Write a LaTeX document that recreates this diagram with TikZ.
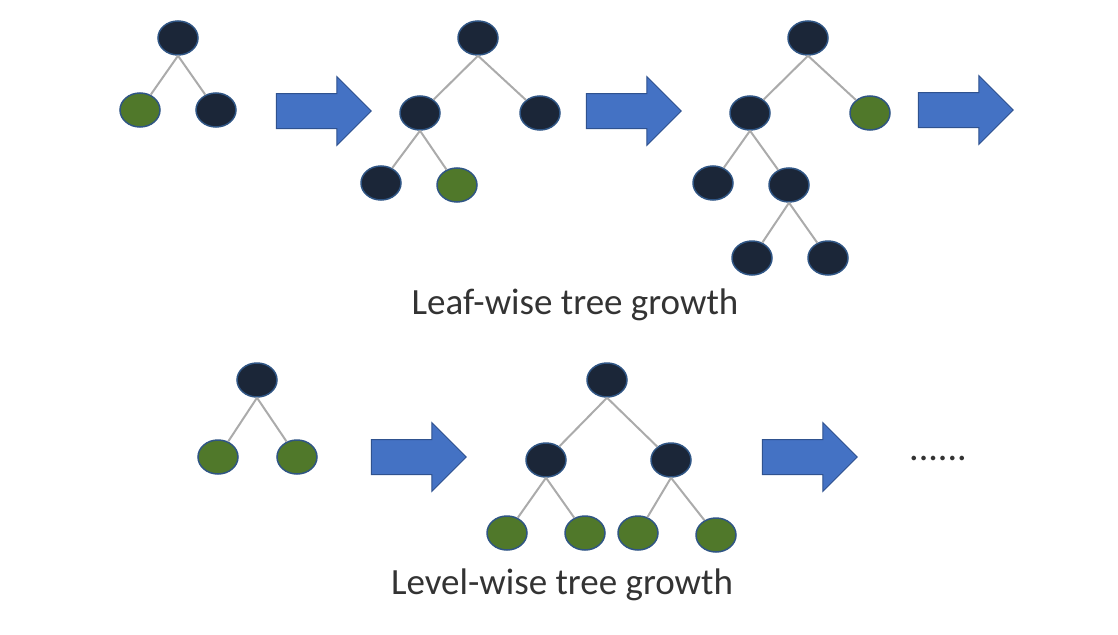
\documentclass[tikz,border=0pt]{standalone}
\usepackage{fontspec}
\setmainfont{Carlito}
\usetikzlibrary{shapes.geometric,shapes.arrows}
\definecolor{darkleaf}{HTML}{1B2638}
\definecolor{greenleaf}{HTML}{50782A}
\definecolor{leafedge}{HTML}{2F5584}
\definecolor{branchgrey}{HTML}{ABABAB}
\definecolor{arrowblue}{HTML}{4472C4}
\definecolor{arrowedge}{HTML}{2F528F}
\definecolor{captiongrey}{HTML}{333333}
\begin{document}
\begin{tikzpicture}[x=1pt, y=-1pt,
  leaf/.style={ellipse, draw=leafedge, line width=1.5pt, fill=darkleaf,
    minimum width=40pt, minimum height=34pt, inner sep=0pt},
  grown/.style={leaf, fill=greenleaf},
  branch/.style={draw=branchgrey, line width=2pt},
  growarrow/.style={single arrow, draw=arrowedge, fill=arrowblue, line width=1pt,
    minimum height=95pt, inner xsep=0pt, inner ysep=17pt,
    single arrow head extend=17pt, single arrow head indent=0pt},
  treecaption/.style={font=\fontsize{37}{44}\selectfont, text=captiongrey}]

  \useasboundingbox (0,0) rectangle (1118,634);

  % leaf-wise trees
  \node [leaf]  (t1)   at (178,38)  {};
  \node [grown] (t1l)  at (140,110) {};
  \node [leaf]  (t1r)  at (216,110) {};

  \node [leaf]  (t2)   at (478,38)  {};
  \node [leaf]  (t2l)  at (420,113) {};
  \node [leaf]  (t2r)  at (540,113) {};
  \node [leaf]  (t2ll) at (381,183) {};
  \node [grown] (t2lr) at (457,185) {};

  \node [leaf]  (t3)    at (808,38)  {};
  \node [leaf]  (t3l)   at (750,113) {};
  \node [grown] (t3r)   at (870,113) {};
  \node [leaf]  (t3ll)  at (713,183) {};
  \node [leaf]  (t3lr)  at (789,185) {};
  \node [leaf]  (t3lrl) at (752,258) {};
  \node [leaf]  (t3lrr) at (828,258) {};

  % level-wise trees
  \node [leaf]  (b1)  at (257,380) {};
  \node [grown] (b1l) at (218,457) {};
  \node [grown] (b1r) at (297,457) {};

  \node [leaf]  (b2)   at (607,380) {};
  \node [leaf]  (b2l)  at (546,460) {};
  \node [leaf]  (b2r)  at (671,460) {};
  \node [grown] (b2ll) at (507,533) {};
  \node [grown] (b2lr) at (585,533) {};
  \node [grown] (b2rl) at (638,533) {};
  \node [grown] (b2rr) at (716,535) {};

  % branches
  \foreach \p/\c in {t1/t1l, t1/t1r, t2/t2l, t2/t2r, t2l/t2ll, t2l/t2lr,
      t3/t3l, t3/t3r, t3l/t3ll, t3l/t3lr, t3lr/t3lrl, t3lr/t3lrr,
      b1/b1l, b1/b1r, b2/b2l, b2/b2r, b2l/b2ll, b2l/b2lr, b2r/b2rl, b2r/b2rr}
    \draw [branch] (\p.south) -- (\c);

  % growth arrows
  \node [growarrow] (a1) at (315,111) {};
  \node [growarrow] (a2) at (625,111) {};
  \node [growarrow] (a3) at (957,110) {};
  \node [growarrow] (a4) at (410,457) {};
  \node [growarrow] (a5) at (801,457) {};

  \node [treecaption, font=\fontsize{38}{40}\selectfont] (more) at (938,458) {......};

  % captions
  \node [treecaption] (leafwise)  at (575,305) {Leaf-wise tree growth};
  \node [treecaption] (levelwise) at (562,585) {Level-wise tree growth};
\end{tikzpicture}
\end{document}
